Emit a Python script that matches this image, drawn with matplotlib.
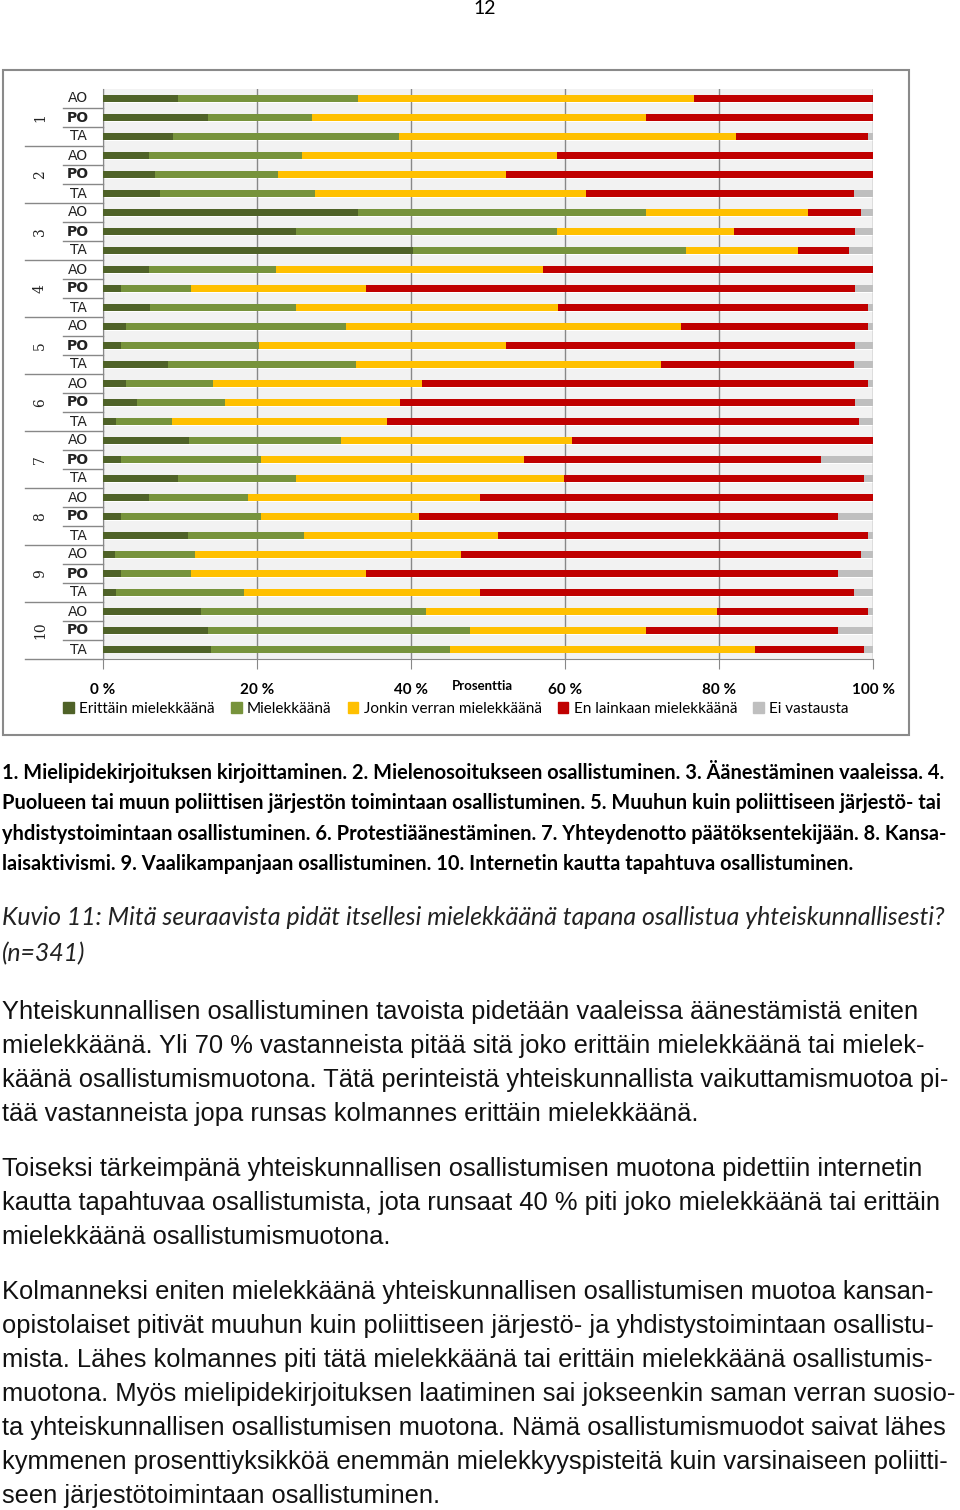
import matplotlib
matplotlib.use('Agg')
import numpy as np
import matplotlib.pyplot as plt
from matplotlib.patches import Rectangle
from matplotlib.lines import Line2D

W, H = 960, 1510

groups = ['1', '2', '3', '4', '5', '6', '7', '8', '9', '10']
rows = ['AO', 'PO', 'TA']
series = ['Erittäin mielekkäänä', 'Mielekkäänä', 'Jonkin verran mielekkäänä',
          'En lainkaan mielekkäänä', 'Ei vastausta']
colors = ['#4F6228', '#77933C', '#FFC000', '#C00000', '#BFBFBF']

# % per row, order: 1 AO, 1 PO, 1 TA, 2 AO, ...
erittain = [9.8, 13.6, 9.1, 6.0, 6.8, 7.4, 33.1, 25.0, 40.3, 6.0, 2.3, 6.1, 3.0, 2.3, 8.5,
            3.0, 4.4, 1.7, 11.2, 2.3, 9.8, 6.0, 2.3, 11.0, 1.6, 2.3, 1.7, 12.7, 13.6, 14.0]
mielekkaana = [23.3, 13.5, 29.3, 19.8, 15.9, 20.1, 37.4, 34.0, 35.4, 16.5, 9.1, 19.0, 28.5, 18.0, 24.4,
               11.3, 11.5, 7.3, 19.7, 18.2, 15.2, 12.8, 18.2, 15.1, 10.3, 9.1, 16.6, 29.3, 34.0, 31.1]
jonkin = [43.6, 43.4, 43.8, 33.2, 29.6, 35.2, 21.1, 22.9, 14.6, 34.6, 22.7, 34.0, 43.6, 32.0, 39.6,
          27.1, 22.7, 27.9, 30.0, 34.2, 34.9, 30.2, 20.6, 25.2, 34.6, 22.7, 30.6, 37.7, 22.9, 39.6]
en_lainkaan = [23.3, 29.5, 17.1, 41.0, 47.7, 34.8, 6.8, 15.8, 6.6, 42.9, 63.5, 40.2, 24.2, 45.3, 25.0,
               57.9, 59.0, 61.3, 39.1, 38.5, 38.9, 51.0, 54.4, 48.0, 51.9, 61.4, 48.6, 19.6, 25.0, 14.1]
ei_vastausta = [0.0, 0.0, 0.7, 0.0, 0.0, 2.5, 1.6, 2.3, 3.1, 0.0, 2.4, 0.7, 0.7, 2.4, 2.5,
                0.7, 2.4, 1.8, 0.0, 6.8, 1.2, 0.0, 4.5, 0.7, 1.6, 4.5, 2.5, 0.7, 4.5, 1.2]
xticks = [0, 20, 40, 60, 80, 100]

body_font = 'Liberation Sans'
ui_font = 'Lato'

fig = plt.figure(figsize=(W / 100, H / 100), dpi=100)

def fx(px):
    return px / W

def fy(py):
    return 1 - py / H

# chart frame
fig.add_artist(Rectangle((fx(3), fy(735)), 906 / W, 665 / H, transform=fig.transFigure,
                         fill=False, edgecolor='#8a8a8a', lw=1.5))

ax = fig.add_axes([fx(103), fy(659), 770 / W, 570 / H])
ax.set_facecolor('#F2F2F2')
n = len(groups) * len(rows)
ypos = np.arange(n)
data = [erittain, mielekkaana, jonkin, en_lainkaan, ei_vastausta]
left = np.zeros(n)
for vals, col, lab in zip(data, colors, series):
    ax.barh(ypos, vals, left=left, height=0.42, color=col, label=lab, zorder=3)
    left += np.array(vals)

for b in np.arange(0.5, n - 1, 1):
    ax.axhline(b - 0.29, color='white', lw=0.8, zorder=1)
ax.set_xlim(0, 100)
ax.set_ylim(n - 0.5, -0.5)
ax.set_yticks([])
ax.set_xticks(xticks)
ax.set_xticklabels([f'{t} %' for t in xticks], fontfamily=ui_font, fontweight='bold', fontsize=11)
ax.tick_params(axis='x', length=7, color='#888888', pad=10)
ax.grid(axis='x', color='#888888', lw=1, zorder=2)
for s in ['top', 'right']:
    ax.spines[s].set_visible(False)
ax.spines['left'].set_color('#888888')
ax.spines['bottom'].set_color('#888888')

yt = ax.get_yaxis_transform()
for gi, g in enumerate(groups):
    for ri, r in enumerate(rows):
        k = gi * 3 + ri
        ax.text(-0.0325, k, r, transform=yt, ha='center', va='center', fontsize=10,
                fontfamily='DejaVu Sans', fontweight='bold' if r == 'PO' else 'normal', color='#222222')
        if ri < 2:
            ax.add_line(Line2D([-0.052, 0], [k + 0.5, k + 0.5], transform=yt, color='#888888',
                               lw=1, clip_on=False))
    ax.text(-0.0818, gi * 3 + 1, g, transform=yt, ha='center', va='center', rotation=90,
            fontsize=10, fontfamily='DejaVu Serif', color='#222222')
    ax.add_line(Line2D([-0.101, 0], [gi * 3 + 2.5, gi * 3 + 2.5], transform=yt, color='#888888',
                       lw=1, clip_on=False))

fig.text(fx(482), fy(686), 'Prosenttia', ha='center', va='center', fontsize=9.5,
         fontfamily=ui_font, fontweight='bold')
handles = [Rectangle((0, 0), 1, 1, color=c) for c in colors]
fig.legend(handles, series, loc='center', bbox_to_anchor=(fx(456), fy(709)), ncol=5,
           frameon=False, prop={'family': ui_font, 'size': 11}, handlelength=0.7,
           handleheight=0.7, handletextpad=0.35, columnspacing=1.05)

# page number
fig.text(fx(485), fy(9), '12', ha='center', va='center', fontsize=14, fontfamily=ui_font)

bold_lines = [
    '1. Mielipidekirjoituksen kirjoittaminen. 2. Mielenosoitukseen osallistuminen. 3. Äänestäminen vaaleissa. 4.',
    'Puolueen tai muun poliittisen järjestön toimintaan osallistuminen. 5. Muuhun kuin poliittiseen järjestö- tai',
    'yhdistystoimintaan osallistuminen. 6. Protestiäänestäminen. 7. Yhteydenotto päätöksentekijään. 8. Kansa-',
    'laisaktivismi. 9. Vaalikampanjaan osallistuminen. 10. Internetin kautta tapahtuva osallistuminen.',
]
for i, line in enumerate(bold_lines):
    fig.text(fx(2), fy(779 + i * 30.3), line, va='baseline', fontsize=14.45, fontfamily=ui_font,
             fontweight='bold')

cap_lines = ['Kuvio 11: Mitä seuraavista pidät itsellesi mielekkäänä tapana osallistua yhteiskunnallisesti?',
             '(n=341)']
for i, line in enumerate(cap_lines):
    fig.text(fx(2), fy(925 + i * 36), line, va='baseline', fontsize=17.9, fontfamily=ui_font,
             fontstyle='italic', color='#222222')

paras = [
    (1019, ['Yhteiskunnallisen osallistuminen tavoista pidetään vaaleissa äänestämistä eniten',
            'mielekkäänä. Yli 70 % vastanneista pitää sitä joko erittäin mielekkäänä tai mielek-',
            'käänä osallistumismuotona. Tätä perinteistä yhteiskunnallista vaikuttamismuotoa pi-',
            'tää vastanneista jopa runsas kolmannes erittäin mielekkäänä.']),
    (1176, ['Toiseksi tärkeimpänä yhteiskunnallisen osallistumisen muotona pidettiin internetin',
            'kautta tapahtuvaa osallistumista, jota runsaat 40 % piti joko mielekkäänä tai erittäin',
            'mielekkäänä osallistumismuotona.']),
    (1299, ['Kolmanneksi eniten mielekkäänä yhteiskunnallisen osallistumisen muotoa kansan-',
            'opistolaiset pitivät muuhun kuin poliittiseen järjestö- ja yhdistystoimintaan osallistu-',
            'mista. Lähes kolmannes piti tätä mielekkäänä tai erittäin mielekkäänä osallistumis-',
            'muotona. Myös mielipidekirjoituksen laatiminen sai jokseenkin saman verran suosio-',
            'ta yhteiskunnallisen osallistumisen muotona. Nämä osallistumismuodot saivat lähes',
            'kymmenen prosenttiyksikköä enemmän mielekkyyspisteitä kuin varsinaiseen poliitti-',
            'seen järjestötoimintaan osallistuminen.']),
]
for y0, lines in paras:
    for i, line in enumerate(lines):
        fig.text(fx(2), fy(y0 + i * 34), line, va='baseline', fontsize=18.4,
                 fontfamily=body_font, color='#111111')

fig.savefig('out.png', dpi=100)
